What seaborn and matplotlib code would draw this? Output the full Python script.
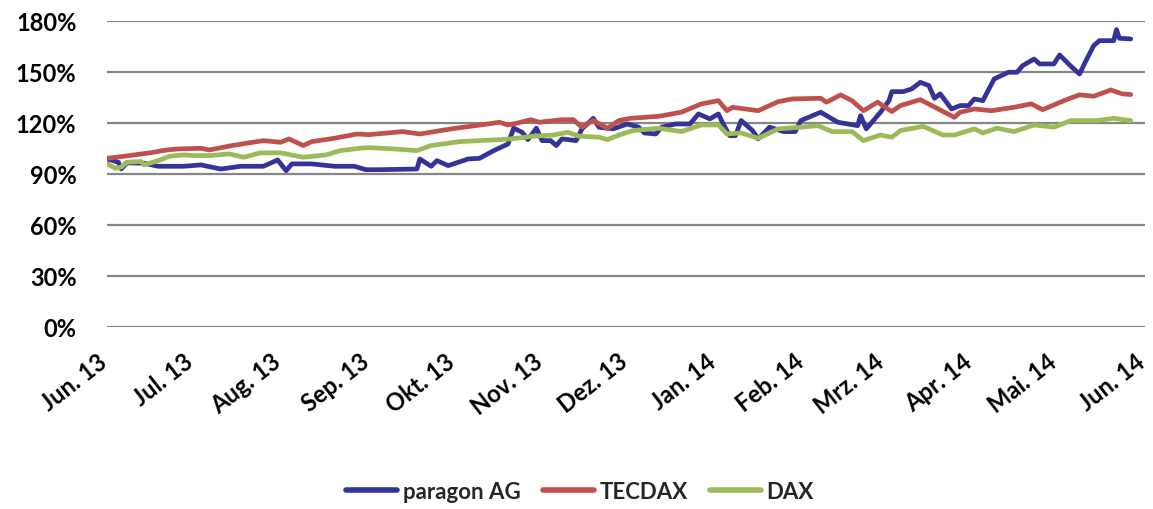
import matplotlib
matplotlib.use("Agg")
import matplotlib.pyplot as plt
import matplotlib.transforms as mtransforms
from matplotlib.ticker import FuncFormatter, MultipleLocator
import pandas as pd
import seaborn as sns

# days since 1 Jun 2013 and index level (%)
start = pd.Timestamp("2013-06-01")

paragon_days = [0, 4, 5, 7, 13, 18, 27, 33, 40, 47, 55, 60, 63, 65, 72, 80, 87, 91, 96,
                109, 110, 114, 116, 120, 127, 131, 136, 141, 143, 146, 148, 151, 153, 156,
                158, 160, 165, 167, 171, 173, 178, 183, 187, 189, 193, 195, 200, 205, 208,
                212, 215, 217, 219, 221, 223, 227, 229, 233, 238, 242, 244, 251, 257, 264,
                265, 267, 272, 275, 276, 280, 283, 286, 289, 291, 293, 297, 300, 303, 305,
                308, 312, 317, 320, 322, 326, 328, 333, 335, 339, 342, 344, 347, 349, 354,
                355, 356, 360]
paragon_vals = [98.8, 96.9, 92.9, 96.5, 96.3, 94.5, 94.5, 95.3, 92.9, 94.5, 94.5, 98.2, 91.9,
                95.9, 95.9, 94.5, 94.5, 92.5, 92.5, 92.9, 98.8, 94.5, 97.8, 94.9, 98.8, 99.2,
                103.7, 107.6, 116.9, 114.5, 110.2, 116.9, 109.6, 109.6, 106.7, 110.6, 109.6,
                116.5, 122.7, 117.5, 116.5, 119.4, 117.5, 114.1, 113.5, 117.5, 119.4, 119.4,
                125.3, 122.4, 125.3, 118.4, 112.5, 112.5, 121.4, 115.5, 110.6, 117.5, 114.9,
                114.9, 121.4, 126.3, 120.4, 118.4, 124.3, 116.5, 126.3, 133.1, 138.4, 138.4,
                140.0, 143.9, 142.0, 134.5, 137.1, 128.2, 130.2, 130.2, 134.1, 133.1, 145.9,
                149.8, 149.8, 153.7, 157.6, 154.7, 154.7, 160.0, 153.3, 148.8, 155.7, 165.5,
                168.4, 168.4, 174.9, 169.8, 169.4]

tecdax_days = [0, 6, 15, 21, 25, 33, 36, 44, 55, 61, 64, 69, 72, 80, 88, 92, 104, 110, 121,
               134, 138, 141, 144, 149, 152, 160, 164, 167, 171, 176, 180, 184, 194, 202,
               209, 215, 218, 220, 229, 236, 241, 251, 253, 258, 262, 266, 271, 276, 279,
               286, 290, 298, 300, 305, 311, 319, 325, 329, 338, 342, 347, 353, 357, 360]
tecdax_vals = [99.2, 100.4, 102.4, 104.1, 104.7, 105.1, 104.1, 106.7, 109.6, 108.6, 110.6,
               106.7, 109.0, 111.0, 113.5, 113.1, 114.9, 113.5, 116.5, 119.4, 120.4, 118.8,
               119.8, 121.9, 120.4, 121.9, 121.9, 117.5, 121.4, 116.9, 121.4, 122.7, 123.9,
               126.3, 131.2, 133.1, 127.2, 129.2, 127.2, 132.5, 134.1, 134.5, 132.2, 136.5,
               133.1, 127.2, 132.2, 126.7, 130.2, 133.7, 130.2, 123.3, 126.3, 128.2, 127.2,
               129.2, 131.2, 127.8, 134.1, 136.5, 135.7, 139.4, 137.1, 136.7]

dax_days = [0, 3, 5, 7, 12, 13, 18, 22, 27, 30, 36, 43, 48, 54, 61, 69, 77, 82, 89, 92,
            101, 109, 114, 124, 136, 142, 150, 157, 162, 166, 173, 176, 180, 185, 194, 202,
            209, 215, 218, 223, 229, 236, 244, 250, 255, 262, 266, 272, 276, 279, 287, 294,
            298, 305, 308, 313, 319, 326, 333, 339, 348, 354, 360]
dax_vals = [95.9, 93.3, 94.0, 96.9, 97.3, 95.3, 97.8, 100.4, 101.2, 100.8, 100.8, 101.8,
            99.8, 102.4, 102.4, 99.8, 101.2, 103.7, 105.1, 105.5, 104.7, 103.7, 106.7, 109.0,
            110.0, 110.6, 112.2, 112.9, 114.5, 112.2, 111.6, 110.2, 112.9, 115.5, 116.9,
            114.9, 118.8, 118.8, 113.5, 114.1, 111.0, 116.5, 117.5, 118.4, 114.9, 114.9,
            109.6, 112.9, 111.6, 115.5, 118.0, 112.9, 112.9, 116.5, 114.1, 116.9, 114.9,
            118.8, 117.5, 121.4, 121.4, 122.7, 121.4]

series_names = ["paragon AG", "TECDAX", "DAX"]
series_colors = ["#333399", "#C0504D", "#9BBB59"]
month_labels = ["Jun. 13", "Jul. 13", "Aug. 13", "Sep. 13", "Okt. 13", "Nov. 13", "Dez. 13",
                "Jan. 14", "Feb. 14", "Mrz. 14", "Apr. 14", "Mai. 14", "Jun. 14"]

frames = []
for name, days, vals in zip(series_names,
                            [paragon_days, tecdax_days, dax_days],
                            [paragon_vals, tecdax_vals, dax_vals]):
    frames.append(pd.DataFrame({
        "date": start + pd.to_timedelta(days, unit="D"),
        "value": vals,
        "series": name,
    }))
df = pd.concat(frames, ignore_index=True)

sns.set_style("white")
plt.rcParams["font.family"] = ["Lato", "DejaVu Sans"]
plt.rcParams["font.weight"] = "bold"

fig = plt.figure(figsize=(11.53, 5.10), dpi=100)
ax = fig.add_axes([0.0928, 0.357, 0.9002, 0.600])

sns.lineplot(data=df, x="date", y="value", hue="series", hue_order=series_names,
             palette=series_colors, linewidth=3.4, ax=ax, legend=True)

ax.set_ylim(0, 180)
ax.yaxis.set_major_locator(MultipleLocator(30))
ax.yaxis.set_major_formatter(FuncFormatter(lambda v, p: f"{v:.0f}%"))
ax.grid(axis="y", color="#868686", linewidth=1.6)
ax.set_axisbelow(True)

month_ticks = pd.date_range("2013-06-01", periods=len(month_labels), freq="MS")
ax.set_xlim(month_ticks[0], month_ticks[-1])
ax.set_xticks(month_ticks)
ax.set_xticklabels(month_labels, rotation=38, ha="right", rotation_mode="anchor")

ax.tick_params(axis="both", length=0, labelsize=17, colors="black")
ax.tick_params(axis="x", pad=16)
ax.tick_params(axis="y", pad=22)
shift = mtransforms.ScaledTranslation(-7 / 72, 0, fig.dpi_scale_trans)
for lbl in ax.get_xticklabels():
    lbl.set_transform(lbl.get_transform() + shift)
for lbl in ax.get_xticklabels() + ax.get_yticklabels():
    lbl.set_fontweight("bold")

for sp in ax.spines.values():
    sp.set_visible(False)
ax.set_xlabel("")
ax.set_ylabel("")

handles, labels = ax.get_legend_handles_labels()
leg = ax.legend(handles, labels, loc="center", bbox_to_anchor=(0.503, 0.035),
                bbox_transform=fig.transFigure, ncol=3, frameon=False,
                handlelength=2.3, handletextpad=0.25, columnspacing=1.0, fontsize=16)
for t in leg.get_texts():
    t.set_fontweight("bold")
for h in leg.get_lines():
    h.set_linewidth(4.0)

fig.savefig("out.png", dpi=100)
